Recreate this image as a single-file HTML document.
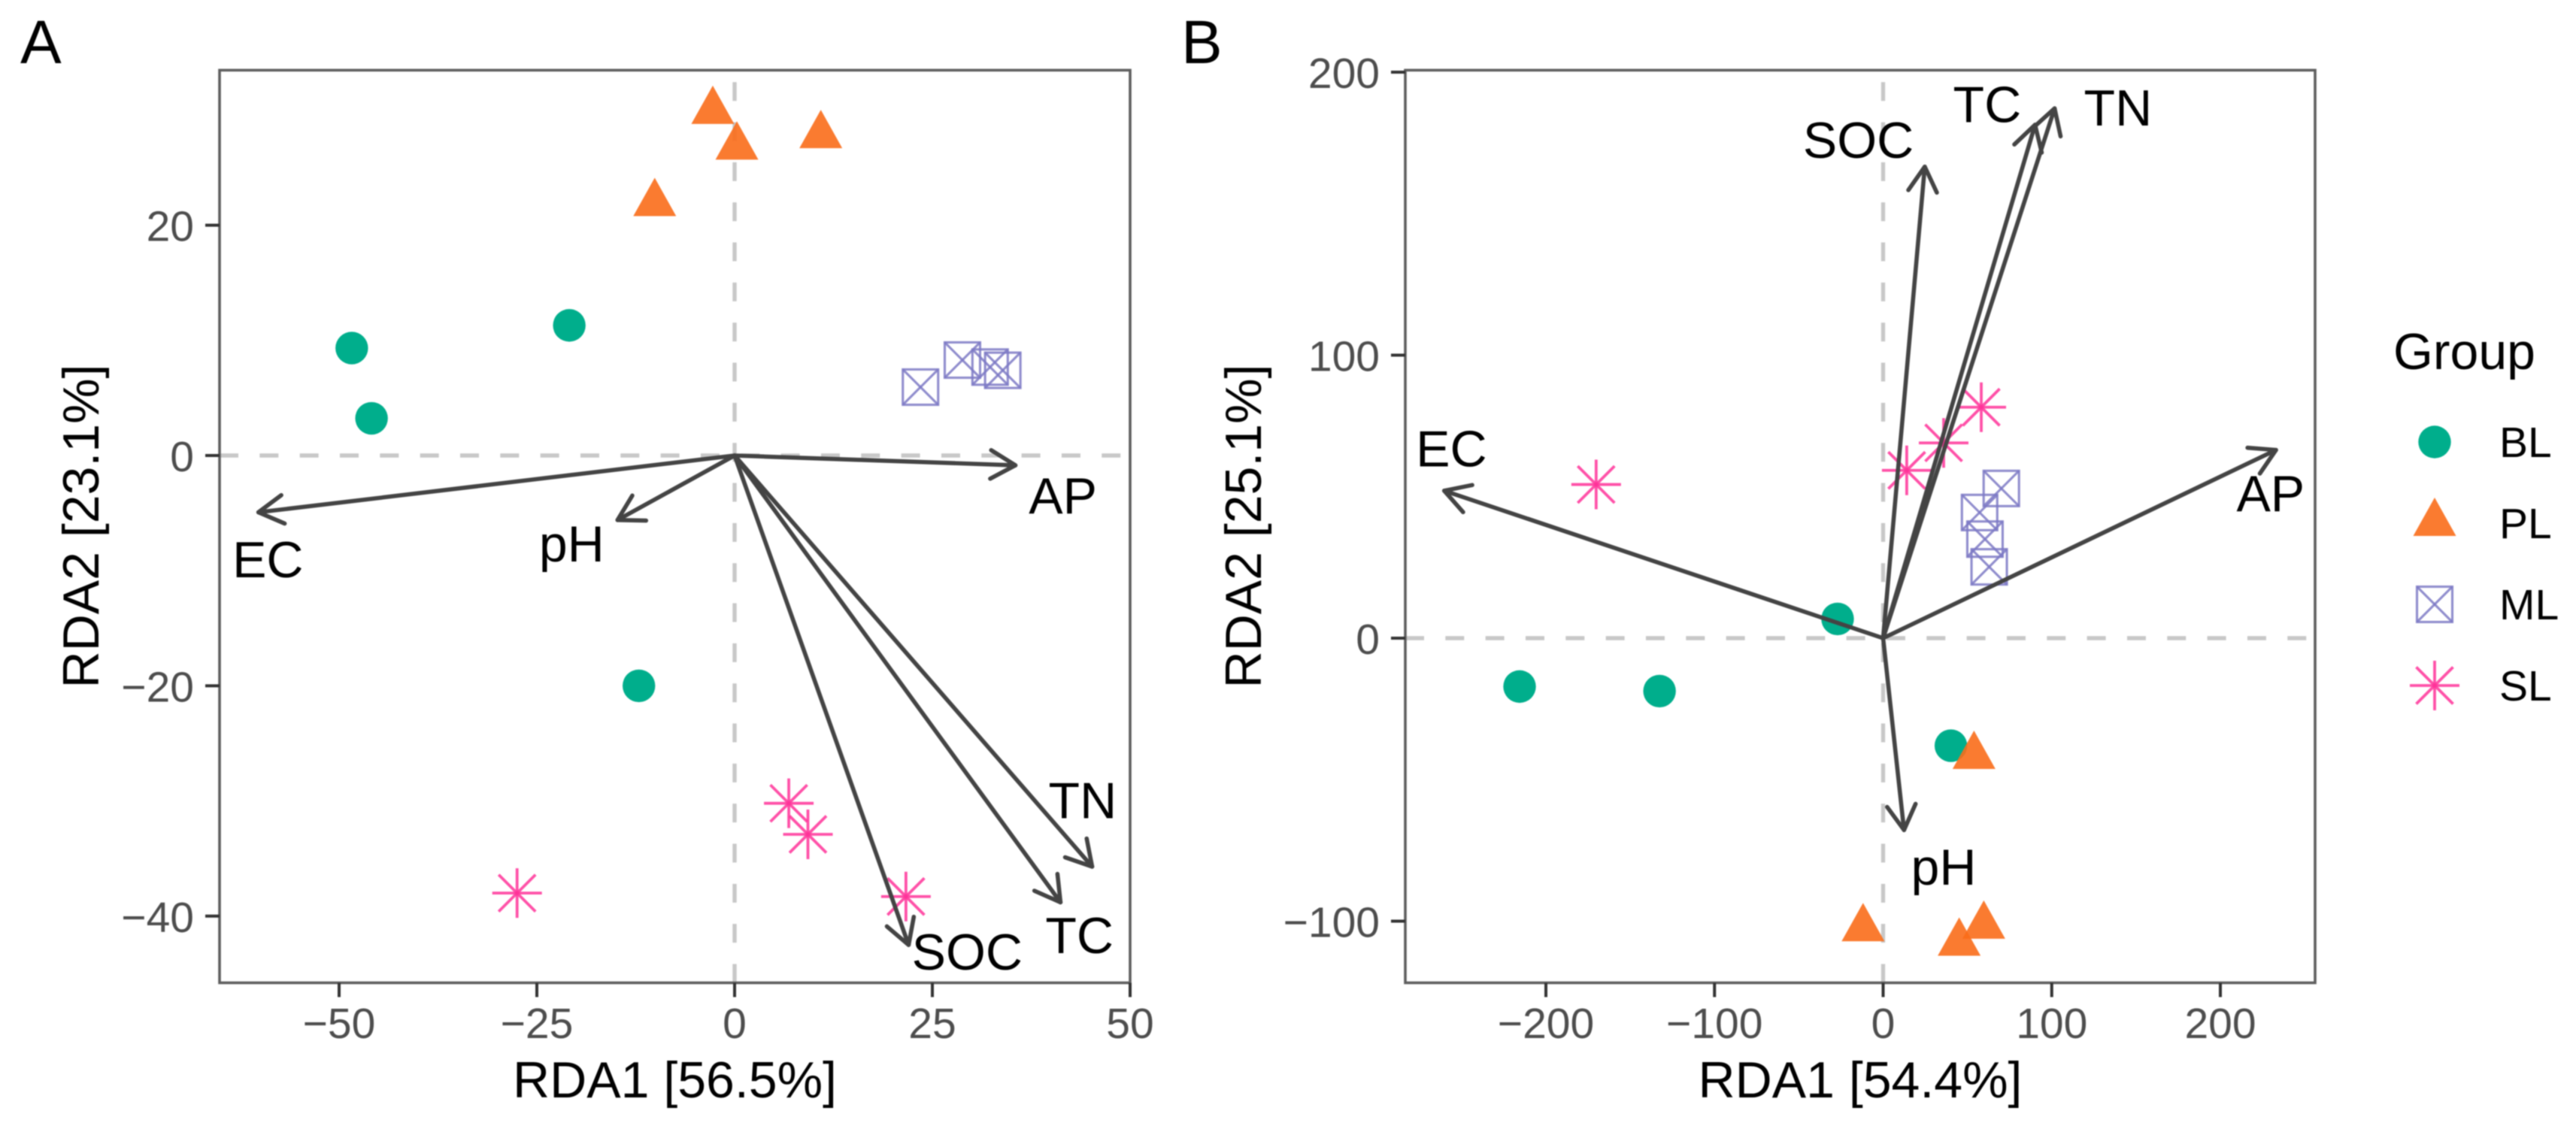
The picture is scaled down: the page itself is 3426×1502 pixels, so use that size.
<!DOCTYPE html>
<html lang="en">
<head>
<meta charset="utf-8">
<title>RDA biplots</title>
<style>
html,body{margin:0;padding:0;background:#fff;width:3426px;height:1502px;overflow:hidden}
svg{display:block;filter:blur(.7px)}
text{font-family:"Liberation Sans",Arial,sans-serif}
.tick{font-size:57px;fill:#4d4d4d}
.title{font-size:68px;fill:#000}
.vec{font-size:68px;fill:#000;text-anchor:middle}
.letter{font-size:82px;fill:#000}
.key{font-size:57px;fill:#000}
</style>
</head>
<body>
<svg id="chart" xmlns="http://www.w3.org/2000/svg" width="3426" height="1502" viewBox="0 0 3426 1502">
  <rect x="0" y="0" width="3426" height="1502" fill="#fff"/>

  <text class="letter" x="27" y="84">A</text>
  <text class="letter" x="1571" y="84">B</text>

  <g id="panelA"></g>
  <g id="panelB"></g>

  <text class="title" x="897.5" y="1460" text-anchor="middle">RDA1 [56.5%]</text>
  <text class="title" transform="translate(131 700) rotate(-90)" text-anchor="middle">RDA2 [23.1%]</text>
  <text class="title" x="2474" y="1460" text-anchor="middle">RDA1 [54.4%]</text>
  <text class="title" transform="translate(1677 700) rotate(-90)" text-anchor="middle">RDA2 [25.1%]</text>

  <g id="legend">
    <text class="title" x="3183" y="491">Group</text>
    <text class="key" x="3324" y="608">BL</text>
    <text class="key" x="3324" y="716">PL</text>
    <text class="key" x="3324" y="824">ML</text>
    <text class="key" x="3324" y="932">SL</text>
  </g>
</svg>

<script>
// ---------- Panel A data ----------
const aXTicks = [-50, -25, 0, 25, 50];
const aYTicks = [20, 0, -20, -40];
const aBLx = [-48.4, -20.9, -45.9, -12.1];
const aBLy = [9.33, 11.3, 3.23, -20.0];
const aPLx = [-2.76, 0.29, 10.9, -10.1];
const aPLy = [29.9, 26.8, 27.8, 21.9];
const aMLx = [23.5, 28.8, 32.3, 33.9];
const aMLy = [5.94, 8.29, 7.68, 7.4];
const aSLx = [6.85, 9.27, 21.66, -27.5];
const aSLy = [-30.2, -32.9, -38.3, -38.0];
const aVecNames = ['EC', 'pH', 'AP', 'TN', 'TC', 'SOC'];
const aVecX = [-60.2, -14.8, 35.5, 45.2, 41.2, 22.0];
const aVecY = [-4.93, -5.6, -0.85, -35.7, -38.8, -42.5];
const aVecLabelX = [-59, -20.6, 41.5, 44, 43.6, 29.4];
const aVecLabelY = [-8.98, -7.6, -3.43, -29.9, -41.6, -43.05];

// ---------- Panel B data ----------
const bXTicks = [-200, -100, 0, 100, 200];
const bYTicks = [200, 100, 0, -100];
const bBLx = [-27, -215.6, -132.6, 40.2];
const bBLy = [6.8, -17.1, -18.7, -38];
const bPLx = [53.9, -11.9, 59.7, 45.1];
const bPLy = [-41.7, -102.6, -101.7, -107.7];
const bMLx = [70.1, 57.2, 60.4, 62.9];
const bMLy = [52.9, 44.4, 35, 25.2];
const bSLx = [58.2, 35.9, 14, -170.2];
const bSLy = [81.6, 69, 59.3, 54.3];
const bVecNames = ['EC', 'AP', 'SOC', 'TC', 'TN', 'pH'];
const bVecX = [-260.3, 233, 24.7, 90.1, 101.7, 12.4];
const bVecY = [52.1, 66.5, 166.6, 181.4, 187.2, -67.8];
const bVecLabelX = [-256, 229.8, -14.7, 61.7, 139.3, 35.9];
const bVecLabelY = [67.2, 51.4, 176.2, 188.8, 187.6, -80.6];

// ---------- Legend data ----------
const legendGroups = ['BL', 'PL', 'ML', 'SL'];

// ---------- Drawing ----------
const NS = 'http://www.w3.org/2000/svg';
const GREEN = '#00ae8c', ORANGE = '#fa6d19', PURPLE = '#7d79c4', PINK = '#ff3399';

function make(tag, parent, attrs) {
  const el = document.createElementNS(NS, tag);
  for (const k in attrs) el.setAttribute(k, attrs[k]);
  parent.appendChild(el);
  return el;
}

function scale(domainA, rangeA, domainB, rangeB) {
  const m = (rangeB - rangeA) / (domainB - domainA);
  return v => rangeA + (v - domainA) * m;
}

function drawCircle(parent, cx, cy, name) {
  const c = make('circle', parent, {cx: cx, cy: cy, r: 21.7, fill: GREEN});
  
  
}

function drawTriangle(parent, cx, cy, name) {
  const pts = [[cx, cy - 34], [cx + 28.5, cy + 17], [cx - 28.5, cy + 17]].map(p => p.join(',')).join(' ');
  const t = make('polygon', parent, {points: pts, fill: ORANGE, 'fill-opacity': 0.9});
  
  
}

function drawBoxX(parent, cx, cy, name) {
  const g = make('g', parent, {stroke: PURPLE, 'stroke-width': 3.1, 'stroke-opacity': 0.85, fill: 'none'});
  
  
  const h = 23.5;
  make('rect', g, {x: cx - h, y: cy - h, width: 2 * h, height: 2 * h});
  make('line', g, {x1: cx - h, y1: cy - h, x2: cx + h, y2: cy + h});
  make('line', g, {x1: cx - h, y1: cy + h, x2: cx + h, y2: cy - h});
}

function drawStar(parent, cx, cy, name) {
  const g = make('g', parent, {stroke: PINK, 'stroke-width': 3.8, 'stroke-opacity': 0.85});
  
  
  const r = 33, d = 24.5;
  make('line', g, {x1: cx - r, y1: cy, x2: cx + r, y2: cy});
  make('line', g, {x1: cx, y1: cy - r, x2: cx, y2: cy + r});
  make('line', g, {x1: cx - d, y1: cy - d, x2: cx + d, y2: cy + d});
  make('line', g, {x1: cx - d, y1: cy + d, x2: cx + d, y2: cy - d});
}

function drawPanel(cfg) {
  const root = cfg.root;
  const x = scale(cfg.xRef[0], cfg.xPx[0], cfg.xRef[1], cfg.xPx[1]);
  const y = scale(cfg.yRef[0], cfg.yPx[0], cfg.yRef[1], cfg.yPx[1]);
  const L = cfg.box[0], T = cfg.box[1], R = cfg.box[2], B = cfg.box[3];
  const p = cfg.prefix;

  const hz = make('line', root, {x1: L, y1: y(0), x2: R, y2: y(0), stroke: '#c8c8c8', 'stroke-width': 5.4, 'stroke-dasharray': '25 28.33'});
  
  
  const vt = make('line', root, {x1: x(0), y1: B, x2: x(0), y2: T, stroke: '#c8c8c8', 'stroke-width': 5.4, 'stroke-dasharray': '25 28.33'});
  
  

  cfg.blX.forEach((v, i) => drawCircle(root, x(v), y(cfg.blY[i]), p + '-point-bl'));
  cfg.plX.forEach((v, i) => drawTriangle(root, x(v), y(cfg.plY[i]), p + '-point-pl'));
  cfg.mlX.forEach((v, i) => drawBoxX(root, x(v), y(cfg.mlY[i]), p + '-point-ml'));
  cfg.slX.forEach((v, i) => drawStar(root, x(v), y(cfg.slY[i]), p + '-point-sl'));

  cfg.vecNames.forEach((nm, i) => {
    const g = make('g', root, {stroke: '#444', 'stroke-width': 5.6, fill: 'none', 'stroke-linecap': 'round', 'stroke-linejoin': 'round'});
    
    
    const x0 = x(0), y0 = y(0), x1 = x(cfg.vecX[i]), y1 = y(cfg.vecY[i]);
    make('line', g, {x1: x0, y1: y0, x2: x1, y2: y1});
    const ang = Math.atan2(y1 - y0, x1 - x0), len = 38, spread = Math.PI / 6;
    const a = [x1 - len * Math.cos(ang - spread), y1 - len * Math.sin(ang - spread)];
    const b = [x1 - len * Math.cos(ang + spread), y1 - len * Math.sin(ang + spread)];
    make('polyline', g, {points: a.join(',') + ' ' + x1 + ',' + y1 + ' ' + b.join(',')});
  });

  cfg.vecNames.forEach((nm, i) => {
    const t = make('text', root, {x: x(cfg.labelX[i]), y: y(cfg.labelY[i]) + 24.5, class: 'vec'});
    
    
    t.textContent = nm;
  });

  const frame = make('rect', root, {x: L, y: T, width: R - L, height: B - T, fill: 'none', stroke: '#5f5f5f', 'stroke-width': 3.6});
  
  

  cfg.xTicks.forEach(v => {
    const tk = make('line', root, {x1: x(v), y1: B, x2: x(v), y2: B + 19, stroke: '#333', 'stroke-width': 4});
    
    
    const t = make('text', root, {x: x(v), y: 1381, class: 'tick', 'text-anchor': 'middle'});
    
    
    t.textContent = String(v).replace('-', '\u2212');
  });
  cfg.yTicks.forEach(v => {
    const tk = make('line', root, {x1: L - 19, y1: y(v), x2: L, y2: y(v), stroke: '#333', 'stroke-width': 4});
    
    
    const t = make('text', root, {x: L - 34, y: y(v) + 21, class: 'tick', 'text-anchor': 'end'});
    
    
    t.textContent = String(v).replace('-', '\u2212');
  });
}

drawPanel({
  root: document.getElementById('panelA'), prefix: 'panel-a',
  box: [292, 93.4, 1503, 1307.5],
  xRef: [0, 50], xPx: [977, 1503], yRef: [0, -40], yPx: [606, 1218.8],
  xTicks: aXTicks, yTicks: aYTicks,
  blX: aBLx, blY: aBLy, plX: aPLx, plY: aPLy, mlX: aMLx, mlY: aMLy, slX: aSLx, slY: aSLy,
  vecNames: aVecNames, vecX: aVecX, vecY: aVecY, labelX: aVecLabelX, labelY: aVecLabelY
});

drawPanel({
  root: document.getElementById('panelB'), prefix: 'panel-b',
  box: [1869, 93.4, 3079, 1307.5],
  xRef: [0, 200], xPx: [2504.5, 2953], yRef: [0, 200], yPx: [849, 96],
  xTicks: bXTicks, yTicks: bYTicks,
  blX: bBLx, blY: bBLy, plX: bPLx, plY: bPLy, mlX: bMLx, mlY: bMLy, slX: bSLx, slY: bSLy,
  vecNames: bVecNames, vecX: bVecX, vecY: bVecY, labelX: bVecLabelX, labelY: bVecLabelY
});

const legendRoot = document.getElementById('legend');
const legendDraw = [drawCircle, drawTriangle, drawBoxX, drawStar];
legendGroups.forEach((g, i) => {
  legendDraw[i](legendRoot, 3238, 588 + i * 108, 'legend-key-' + g.toLowerCase());
});
</script>
</body>
</html>
